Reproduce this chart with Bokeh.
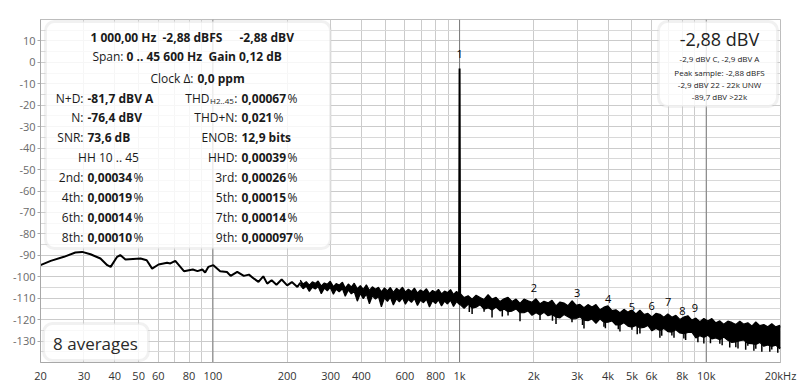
from bokeh.plotting import figure
from bokeh.models import FixedTicker, Label, BoxAnnotation, Span
from bokeh.core.properties import value
from bokeh.embed import file_html
from bokeh.resources import INLINE

FONT = "Open Sans"

# ---------------- data ----------------
# low-frequency trace (Hz, dBV)
trace_freq = [20, 22, 24.9, 27.7, 29.5, 31.9, 35, 37.3, 38.5, 40.9, 42.1, 44.2, 50.9, 53.9,
              56.7, 60.2, 65.2, 67.2, 70.4, 76.3, 82.9, 86.6, 90.6, 93, 95.8, 100.4, 107, 114,
              118, 125.5, 133.4, 140, 146.7, 153, 160, 166, 173, 181, 190, 200, 209, 220, 226]
trace_db = [-94.6, -92.6, -90.7, -88.7, -88.4, -89.5, -91.5, -94.6, -95.4, -90.7, -89.9, -92.0,
            -91.5, -92.3, -96.2, -94.3, -93.5, -93.8, -92.6, -97.4, -96.6, -97.4, -96.6, -98.0,
            -95.4, -94.6, -97.4, -97.8, -99.6, -97.7, -99.6, -99.0, -100.9, -102.4, -99.8,
            -103.2, -101.6, -103.7, -101.3, -104.0, -102.5, -104.8, -102.8]

# noise floor from 226 Hz to 20 kHz: upper and lower edge of the dense band (Hz, dBV)
floor_freq = [226, 232, 239, 246, 253, 260, 267, 275, 283, 291, 299, 308, 316, 325, 335, 344,
              354, 364, 374, 385, 396, 407, 419, 431, 443, 456, 469, 482, 496, 510, 524, 539,
              555, 570, 587, 603, 620, 638, 656, 675, 694, 714, 734, 755, 777, 799, 821, 845,
              869, 893, 919, 945, 972, 995,
              1005, 1043, 1083, 1124, 1167, 1211, 1257, 1305, 1354, 1406, 1459, 1515, 1572,
              1632, 1694, 1758, 1825, 1894, 1966, 2041, 2119, 2199, 2283, 2370, 2460, 2553,
              2650, 2751, 2856, 2964, 3077, 3194, 3315, 3441, 3572, 3708, 3849, 3995, 4147,
              4304, 4468, 4638, 4814, 4997, 5187, 5384, 5589, 5801, 6022, 6251, 6488, 6735,
              6991, 7256, 7532, 7818, 8115, 8424, 8744, 9076, 9421, 9779, 10151, 10537, 10937,
              11353, 11784, 12232, 12697, 13179, 13680, 14200, 14740, 15300, 15881, 16485,
              17111, 17762, 18437, 19137, 19864, 20000]
floor_upper = [-101.6, -103.4, -102.3, -103.9, -102.4, -103.1, -102.0, -104.3, -102.9, -103.5,
               -102.1, -104.6, -103.2, -103.9, -102.6, -105.3, -103.4, -104.8, -103.0, -105.6,
               -104.1, -105.9, -103.8, -106.4, -104.7, -105.8, -104.9, -107.0, -105.2, -106.6,
               -105.0, -107.3, -105.4, -106.5, -104.9, -107.1, -105.8, -106.9, -105.3, -107.6,
               -106.2, -107.0, -105.6, -107.9, -106.4, -107.2, -105.9, -108.0, -106.7, -107.4,
               -106.0, -108.3, -106.9, -107.8,
               -107.8, -109.7, -108.9, -110.5, -108.6, -109.7, -110.6, -108.4, -110.4, -109.6,
               -111.6, -110.3, -109.6, -111.5, -110.4, -112.4, -110.4, -111.2, -111.9, -110.3,
               -112.6, -111.4, -112.2, -111.0, -113.6, -111.8, -112.3, -113.5, -111.2, -113.3,
               -112.9, -114.4, -113.0, -114.1, -113.0, -115.4, -114.2, -113.6, -115.8, -115.4,
               -116.8, -115.2, -116.5, -115.6, -117.4, -115.6, -117.6, -117.1, -118.7, -117.1,
               -117.5, -118.9, -117.3, -118.9, -118.0, -119.9, -118.8, -118.2, -120.2, -119.3,
               -121.0, -119.5, -120.7, -119.5, -121.5, -120.6, -122.2, -120.7, -121.3, -122.3,
               -120.7, -122.1, -121.5, -123.0, -121.1, -122.8, -122.3, -123.3, -121.9, -123.4,
               -122.7, -123.6]
floor_lower = [-103.9, -105.6, -104.4, -106.8, -104.9, -105.7, -104.6, -107.9, -105.3, -106.6,
               -105.0, -108.2, -105.8, -107.0, -105.6, -109.1, -106.2, -108.0, -106.9, -111.4,
               -107.8, -110.2, -108.1, -112.6, -108.9, -110.4, -109.2, -114.0, -109.8, -111.5,
               -109.6, -113.2, -110.3, -111.7, -109.9, -112.8, -110.6, -111.9, -110.2, -113.4,
               -110.9, -112.1, -110.5, -114.1, -111.2, -112.5, -110.8, -113.6, -111.4, -112.7,
               -111.0, -113.9, -111.6, -112.8,
               -113.0, -114.7, -112.9, -114.6, -114.2, -113.1, -115.1, -114.5, -115.5, -114.1,
               -115.9, -115.1, -116.3, -116.0, -115.0, -116.8, -116.8, -115.9, -118.0, -116.8,
               -117.8, -116.6, -118.2, -117.6, -118.8, -119.2, -117.6, -118.7, -119.7, -119.5,
               -118.7, -120.3, -120.5, -119.7, -121.7, -119.6, -121.3, -121.2, -120.6, -122.5,
               -122.5, -121.5, -123.0, -123.5, -122.7, -123.9, -123.6, -122.7, -125.2, -124.1,
               -125.0, -124.1, -125.6, -125.8, -124.7, -126.2, -126.6, -126.0, -125.8, -128.5,
               -127.5, -128.3, -127.3, -129.0, -128.5, -129.4, -128.1, -129.6, -130.6, -130.4,
               -129.8, -129.5, -131.1, -131.2, -131.6, -130.6, -132.4, -131.8, -132.5, -131.9,
               -133.6, -132.8]

# narrow downward spikes below the band (Hz, tip dBV, base dBV)
spike_freq = [1095, 1124, 1257, 1354, 1490, 1572, 1758, 2119, 2380, 2460, 2856, 3150, 3194,
              3849, 3900, 4400, 4468, 4997, 5250, 5384, 6488, 6600, 7256, 7400, 8115, 8250,
              9250, 9779, 10400, 11353, 11600, 12450, 13179, 13450, 14450, 14740, 15600,
              15881, 16800, 18100, 18437, 19500]
spike_tip = [-116.5, -117.4, -116.3, -119.0, -118.5, -118.1, -120.8, -120.2, -120.5, -122.0,
             -121.2, -122.5, -124.1, -123.3, -124.0, -124.5, -125.5, -124.7, -126.8, -126.5,
             -128.4, -127.5, -127.4, -128.5, -128.8, -129.5, -130.5, -131.1, -131.0, -131.3,
             -132.0, -133.0, -132.9, -133.5, -134.0, -132.2, -134.5, -133.6, -135.0, -135.0,
             -133.9, -135.5]
spike_base = [-113.5, -114.6, -115.1, -115.5, -115.0, -116.3, -116.8, -117.8, -117.5, -118.8,
              -119.7, -119.2, -120.3, -121.3, -120.4, -121.4, -122.5, -123.5, -122.8, -123.9,
              -125.0, -124.2, -125.8, -125.0, -126.6, -125.8, -126.8, -128.3, -127.8, -129.4,
              -128.5, -129.0, -130.4, -129.5, -130.0, -131.1, -130.7, -131.6, -131.0, -131.4,
              -132.5, -131.8]

# fundamental (1 kHz) peak
fund_freq = [995, 1000, 1005]
fund_db = [-110.0, -2.88, -110.0]

# harmonic markers (fundamental = 1)
harm_freq = [1000, 2000, 3000, 4000, 5000, 6000, 7000, 8000, 9000]
harm_db = [-2.88, -112.4, -114.7, -117.5, -121.3, -120.8, -118.9, -123.1, -121.7]
harm_label = ["1", "2", "3", "4", "5", "6", "7", "8", "9"]

# axes
x_ticks = [20, 30, 40, 50, 60, 70, 80, 90, 100, 200, 300, 400, 500, 600, 700, 800, 900,
           1000, 2000, 3000, 4000, 5000, 6000, 7000, 8000, 9000, 10000, 20000]
x_tick_labels = ["20", "30", "40", "50", "60", "", "80", "", "100", "200", "300", "400", "",
                 "600", "", "800", "", "1k", "2k", "3k", "4k", "5k", "6k", "", "8k", "", "10k",
                 "20kHz"]
y_ticks = [-130, -120, -110, -100, -90, -80, -70, -60, -50, -40, -30, -20, -10, 0, 10]
y_minor = [-135, -125, -115, -105, -95, -85, -75, -65, -55, -45, -35, -25, -15, -5, 5, 15]

# info panel texts
head_texts = ["1 000,00 Hz", "-2,88 dBFS", "-2,88 dBV"]
span_texts = ["Span:", "0 .. 45 600 Hz", "Gain 0,12 dB"]
clock_texts = ["Clock \u0394:", "0,0 ppm"]
left_names = ["N+D:", "N:", "SNR:", None, "2nd:", "4th:", "6th:", "8th:"]
left_values = ["-81,7 dBV A", "-76,4 dBV", "73,6 dB", None, "0,00034", "0,00019", "0,00014", "0,00010"]
left_pct = [False, False, False, False, True, True, True, True]
right_names = ["THD", "THD+N:", "ENOB:", "HHD:", "3rd:", "5th:", "7th:", "9th:"]
right_values = ["0,00067", "0,021", "12,9 bits", "0,00039", "0,00026", "0,00015", "0,00014", "0,000097"]
right_pct_x = [287, 273, None, 287, 287, 287, 287, 293]
level_texts = ["-2,88 dBV", "-2,9 dBV C, -2,9 dBV A", "Peak sample: -2,88 dBFS",
               "-2,9 dBV 22 - 22k UNW", "-89,7 dBV >22k"]
avg_text = "8 averages"

# ---------------- figure ----------------
p = figure(width=800, height=386, x_axis_type="log", x_range=(20, 20000), y_range=(-140, 20),
           output_backend="svg", toolbar_location=None,
           min_border_left=40, min_border_right=20, min_border_top=19, min_border_bottom=24)
p.background_fill_color = "white"
p.border_fill_color = "white"
p.outline_line_color = "#bdbdbd"

p.xaxis.ticker = FixedTicker(ticks=x_ticks, minor_ticks=[])
p.xaxis.major_label_overrides = {t: s for t, s in zip(x_ticks, x_tick_labels)}
p.yaxis.ticker = FixedTicker(ticks=y_ticks, minor_ticks=y_minor)
p.yaxis.major_label_overrides = {t: str(t) for t in y_ticks}

for ax in (p.xaxis, p.yaxis):
    ax.axis_line_color = "#a8a8a8"
    ax.major_tick_in = 0
    ax.minor_tick_in = 0
    ax.minor_tick_out = 0
    ax.major_label_text_font = FONT
    ax.major_label_text_font_size = "11px"
p.xaxis.major_tick_out = 0
p.xaxis.major_label_standoff = 5
p.xaxis.major_label_text_color = "#333333"
p.yaxis.major_tick_out = 3
p.yaxis.major_tick_line_color = "#a8a8a8"
p.yaxis.major_label_standoff = 2
p.yaxis.major_label_text_color = "#6a6a6a"

p.xgrid.grid_line_color = "#cbcbcb"
p.ygrid.grid_line_color = "#cbcbcb"
p.ygrid.minor_grid_line_color = "#d8d8d8"
for loc in (100, 1000, 10000):
    p.add_layout(Span(location=loc, dimension="height", line_color="#7a7a7a", line_width=1,
                      level="underlay"))

# data
p.line(trace_freq, trace_db, line_color="black", line_width=2)
p.varea(x=floor_freq, y1=floor_lower, y2=floor_upper, fill_color="black")
p.line(floor_freq, floor_upper, line_color="black", line_width=1.2)
p.line(floor_freq, floor_lower, line_color="black", line_width=1.2)
p.segment(x0=spike_freq, y0=spike_base, x1=spike_freq, y1=spike_tip, line_color="black",
          line_width=1.5)
p.line(fund_freq, fund_db, line_color="black", line_width=2)
p.text(x=harm_freq, y=harm_db, text=harm_label, text_align="center", text_baseline="middle",
       y_offset=-15, text_font=value(FONT), text_font_size="11px", text_color="black")


# ---------------- annotations (positions in pixels of the frame) ----------------
def sx(x_img):
    return x_img - 40


def dy(y_img):
    return 20 - (y_img - 19) / 2.1437


def box(x0, y0, x1, y1):
    p.add_layout(BoxAnnotation(left=sx(x0), right=sx(x1), top=dy(y0), bottom=dy(y1),
                               left_units="screen", right_units="screen",
                               top_units="data", bottom_units="data",
                               fill_color="white", fill_alpha=0.82,
                               line_color="#d2d2d2", line_width=3, border_radius=9))


def lab(text, x, y, align="left", bold=False, size="12px", color="#1a1a1a"):
    p.add_layout(Label(x=sx(x), y=dy(y), x_units="screen", y_units="data", text=text,
                       text_align=align, text_baseline="middle", text_font=FONT,
                       text_font_size=size, text_color=color,
                       text_font_style="bold" if bold else "normal"))


box(45, 21, 330, 248)
box(658, 21, 777, 106)
box(43, 323, 148, 360)

lab("dBV", 38, 8, align="right", size="11px", color="#333333")

# info panel
lab(head_texts[0], 90, 36.5, bold=True)
lab(head_texts[1], 162, 36.5, bold=True)
lab(head_texts[2], 239, 36.5, bold=True)
lab(span_texts[0], 123, 55.5, align="right")
lab(span_texts[1], 126, 55.5, bold=True)
lab(span_texts[2], 208, 55.5, bold=True)
lab(clock_texts[0], 193, 77.5, align="right")
lab(clock_texts[1], 197, 77.5, bold=True)

rows_y = [97.5, 116.5, 136.7, 156.7, 177, 197, 217, 237]
for i, yy in enumerate(rows_y):
    if left_names[i] is None:
        lab("HH 10 .. 45", 108, yy, align="center")
    else:
        lab(left_names[i], 83, yy, align="right")
        lab(left_values[i], 87, yy, bold=True)
        if left_pct[i]:
            lab("%", 133, yy)
    if i == 0:
        lab(right_names[i], 209, yy, align="right")
        lab("H2..45", 209.5, yy + 2, size="8px")
        lab(":", 237, yy, align="right")
    else:
        lab(right_names[i], 237, yy, align="right")
    lab(right_values[i], 241, yy, bold=True)
    if right_pct_x[i] is not None:
        lab("%", right_pct_x[i], yy)

# level panel
lab(level_texts[0], 719, 38.5, align="center", size="18px", color="#222222")
for t, yy in zip(level_texts[1:], [58.3, 71.7, 83.5, 95.7]):
    lab(t, 719, yy, align="center", size="8px", color="#222222")

# averages
lab(avg_text, 95, 343, align="center", size="17px", color="#2a2a2a")

open("out.html", "w").write(file_html(p, INLINE))
